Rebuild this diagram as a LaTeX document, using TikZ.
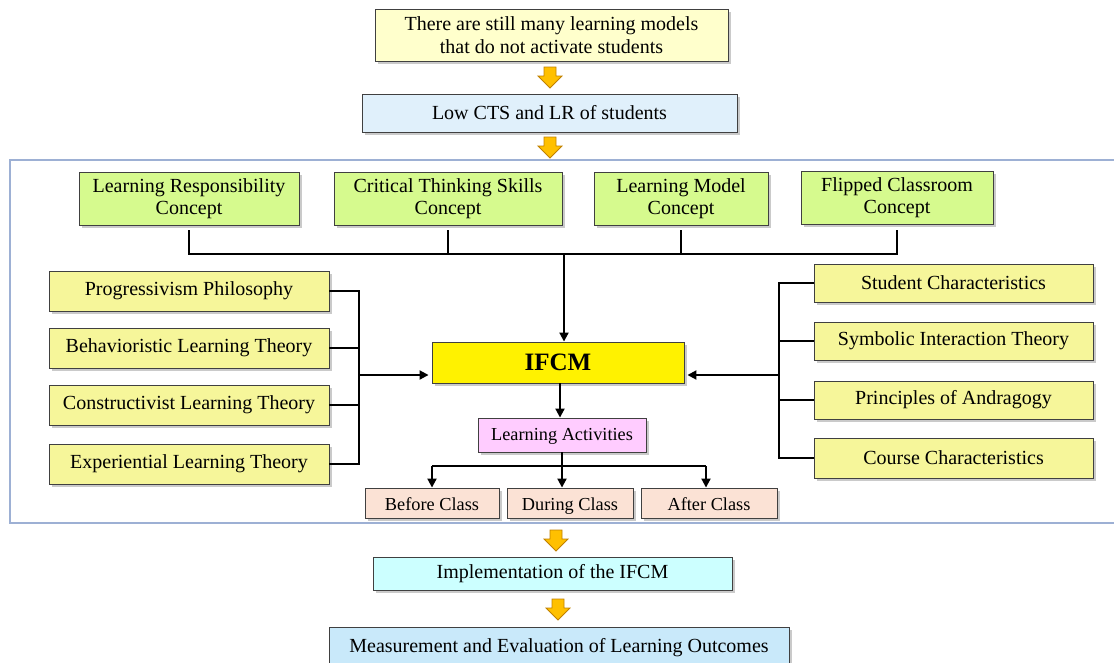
\documentclass[tikz,border=0pt]{standalone}
\usepackage{fontspec}
\setmainfont{Liberation Serif}
\usetikzlibrary{arrows.meta,shadows,calc}

\definecolor{creamfill}{HTML}{FFFFCC}
\definecolor{skyfill}{HTML}{E0F0FB}
\definecolor{greenfill}{HTML}{D6FA8E}
\definecolor{yelfill}{HTML}{F6F69A}
\definecolor{pinkfill}{HTML}{FFCCFF}
\definecolor{peachfill}{HTML}{FBE2D5}
\definecolor{cyanfill}{HTML}{CCFFFF}
\definecolor{bluefill}{HTML}{C9E9FA}
\definecolor{framecol}{HTML}{9DB0D4}
\definecolor{boxline}{HTML}{404040}
\definecolor{arrowfill}{HTML}{FFC000}
\definecolor{arrowline}{HTML}{C08000}

\tikzset{
  box/.style={draw=boxline, line width=0.9pt, inner sep=0pt, align=center,
    font=\fontsize{20}{22.5}\selectfont,
    drop shadow={shadow xshift=2.5pt, shadow yshift=-2.5pt, opacity=0.35, fill=black!60}},
  smalltext/.style={font=\fontsize{18.3}{21}\selectfont, text height=14.5pt, text depth=4pt},
  classtext/.style={font=\fontsize{18.3}{21}\selectfont, text height=18.5pt, text depth=4pt},
  conn/.style={line width=2pt, black},
  arr/.style={conn, -{Triangle[length=9pt,width=9pt]}},
  flowarrow/.style={fill=arrowfill, draw=arrowline, line width=0.8pt, line join=miter}
}

% a box given by its corners (left, top, right, bottom), in pixel units
\newcommand{\boxat}[8][]{%
  \node[box, #1, fill=#7, minimum width={(#5-#3)*1pt}, minimum height={(#6-#4)*1pt}]
    (#2) at ({(#3+#5)/2},{(#4+#6)/2}) {#8};}

% orange block arrow pointing down, from its top centre
\newcommand{\blockarrow}[2]{%
  \draw[flowarrow] (#1-6,#2) -- (#1+6,#2) -- (#1+6,#2+9) -- (#1+12,#2+9)
    -- (#1,#2+21) -- (#1-12,#2+9) -- (#1-6,#2+9) -- cycle;}

\begin{document}
\begin{tikzpicture}[x=1pt,y=-1pt]
\useasboundingbox (0,0) rectangle (1114,662);
\clip (0,0) rectangle (1114,662);

% problem statement
\boxat{prob}{375}{9}{728}{61}{creamfill}{There are still many learning models\\that do not activate students}
\blockarrow{550}{67}
\boxat{low}{362}{94}{737}{132}{skyfill}{Low CTS and LR of students}
\blockarrow{550}{137}

% framework frame
\draw[framecol, line width=1.3pt] (10,160) rectangle (1125,523);

% concepts
\boxat{lrc}{79}{172}{299}{225}{greenfill}{Learning Responsibility\\Concept}
\boxat{cts}{334}{172}{562}{225}{greenfill}{Critical Thinking Skills\\Concept}
\boxat{lmc}{594}{172}{768}{225}{greenfill}{Learning Model\\Concept}
\boxat{fcc}{801}{171}{993}{224}{greenfill}{Flipped Classroom\\Concept}

% left foundations
\boxat{prog}{49}{271}{329}{311}{yelfill}{Progressivism Philosophy}
\boxat{beh}{49}{328}{329}{368}{yelfill}{Behavioristic Learning Theory}
\boxat{con}{49}{385}{329}{425}{yelfill}{Constructivist Learning Theory}
\boxat{exp}{49}{444}{329}{484}{yelfill}{Experiential Learning Theory}

% right foundations
\boxat{stu}{814}{264}{1093}{302}{yelfill}{Student Characteristics}
\boxat{sym}{814}{322}{1093}{360}{yelfill}{Symbolic Interaction Theory}
\boxat{and}{814}{381}{1093}{419}{yelfill}{Principles of Andragogy}
\boxat{crs}{814}{438}{1093}{478}{yelfill}{Course Characteristics}

% model
\boxat[font=\fontsize{25}{28}\selectfont\bfseries]{ifcm}{432}{342}{684}{383}{yellow}{IFCM}
\boxat[smalltext]{la}{478}{418}{646}{452}{pinkfill}{Learning Activities}
\boxat[classtext]{before}{365}{488}{499}{518}{peachfill}{Before Class}
\boxat[classtext]{during}{507}{488}{633}{518}{peachfill}{During Class}
\boxat[classtext]{after}{641}{488}{777}{518}{peachfill}{After Class}

% outcome
\blockarrow{556}{530}
\boxat{impl}{373}{557}{732}{590}{cyanfill}{Implementation of the IFCM}
\blockarrow{558}{599}
\boxat{meas}{329}{627}{789}{668}{bluefill}{\raisebox{4pt}{Measurement and Evaluation of Learning Outcomes}}

% concept bus
\coordinate (topbus) at (0,254);
\coordinate (ifcmin) at (564,0);
\draw[conn] ([yshift=-5pt]lrc.south) -- (lrc.south |- topbus) -- (fcc.south |- topbus) -- ([yshift=-6pt]fcc.south);
\draw[conn] ([yshift=-5pt]cts.south) -- (cts.south |- topbus);
\draw[conn] ([yshift=-5pt]lmc.south) -- (lmc.south |- topbus);
\draw[arr] (ifcmin |- topbus) -- (ifcmin |- ifcm.north);

% left bus
\coordinate (lbus) at (359,0);
\draw[conn] (prog.east) -- (prog.east -| lbus) -- (exp.east -| lbus) -- (exp.east);
\draw[conn] (beh.east) -- (beh.east -| lbus);
\draw[conn] (con.east) -- (con.east -| lbus);
\draw[arr] (lbus |- 0,375) -- ([xshift=-3pt]ifcm.west |- 0,375);

% right bus
\coordinate (rbus) at (779,0);
\draw[conn] (stu.west) -- (stu.west -| rbus) -- (crs.west -| rbus) -- (crs.west);
\draw[conn] (sym.west) -- (sym.west -| rbus);
\draw[conn] (and.west) -- (and.west -| rbus);
\draw[arr] (rbus |- 0,375) -- ([xshift=3pt]ifcm.east |- 0,375);

% activities
\coordinate (actbus) at (0,466);
\draw[arr] (560,0 |- ifcm.south) -- (560,0 |- la.north);
\draw[conn] (la.south) -- (la.south |- actbus);
\draw[conn] (432,0 |- actbus) -- (706,0 |- actbus);
\draw[arr] (432,0 |- actbus) -- (432,0 |- before.north);
\draw[arr] (la.south |- actbus) -- (la.south |- during.north);
\draw[arr] (706,0 |- actbus) -- (706,0 |- after.north);
\end{tikzpicture}
\end{document}
